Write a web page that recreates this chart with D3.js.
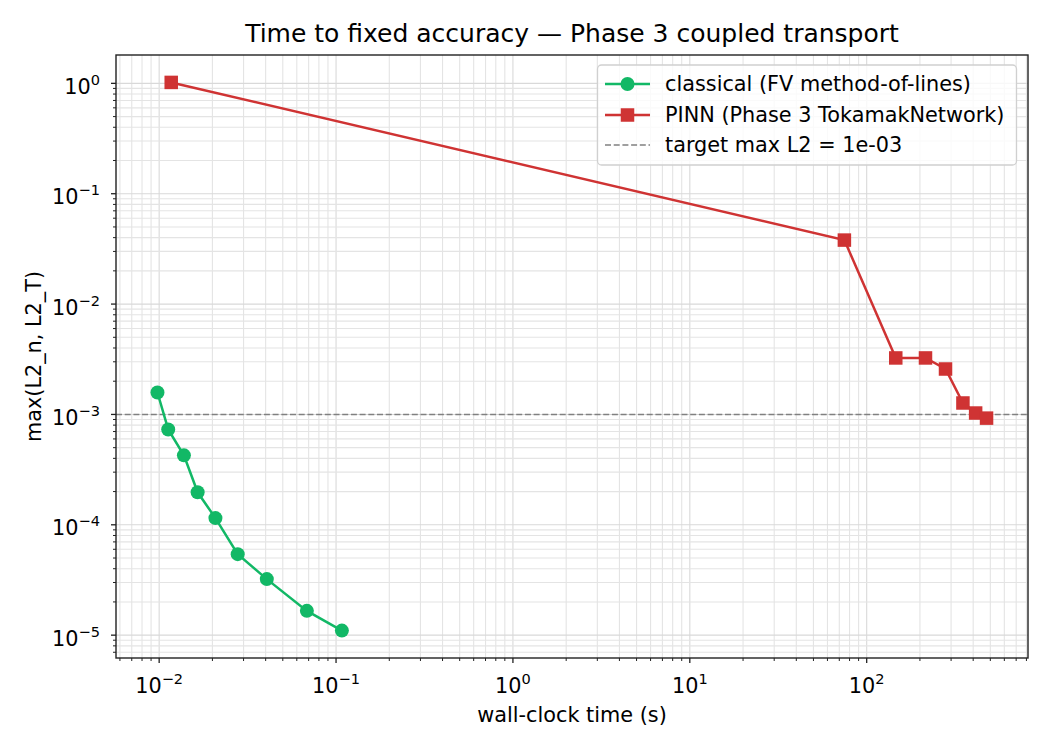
<!DOCTYPE html>
<html>
<head>
<meta charset="utf-8">
<script src="https://cdn.jsdelivr.net/npm/d3@7"></script>
<style>
  html, body { margin: 0; padding: 0; background: #fff; }
  text { font-family: "DejaVu Sans", sans-serif; fill: #000; }
</style>
</head>
<body>
<svg id="chart" width="1050" height="750"></svg>
<script>
// ---- data ----
const classicalTime = [0.00978, 0.01125, 0.0138, 0.0165, 0.0208, 0.0278, 0.0406, 0.0684, 0.1079];
const classicalErr  = [1.58e-3, 7.31e-4, 4.26e-4, 1.97e-4, 1.15e-4, 5.42e-5, 3.22e-5, 1.66e-5, 1.10e-5];
const pinnTime = [0.0117, 74.8, 146, 215, 279, 350, 413, 476];
const pinnErr  = [1.02, 0.0380, 3.25e-3, 3.25e-3, 2.58e-3, 1.27e-3, 1.03e-3, 9.26e-4];
const targetErr = 1e-3;
const xTickExps = [-2, -1, 0, 1, 2];
const yTickExps = [0, -1, -2, -3, -4, -5];
const seriesNames = ["classical (FV method-of-lines)", "PINN (Phase 3 TokamakNetwork)", "target max L2 = 1e-03"];
const titleText = "Time to fixed accuracy \u2014 Phase 3 coupled transport";
const xLabelText = "wall-clock time (s)";
const yLabelText = "max(L2_n, L2_T)";

// ---- layout ----
const W = 1050, H = 750;
const plot = { left: 116, right: 1028, top: 55, bottom: 658 };
const green = "#12b866", red = "#cf3333";

const svg = d3.select("#chart");

function padLog(vals, frac) {
  const lo = Math.log10(d3.min(vals)), hi = Math.log10(d3.max(vals));
  const p = (hi - lo) * frac;
  return [Math.pow(10, lo - p), Math.pow(10, hi + p)];
}
const x = d3.scaleLog().domain(padLog(classicalTime.concat(pinnTime), 0.05)).range([plot.left, plot.right]);
const y = d3.scaleLog().domain(padLog(classicalErr.concat(pinnErr), 0.05)).range([plot.bottom, plot.top]);

function minorTicks(scale) {
  const [a, b] = scale.domain();
  const out = [];
  for (let e = Math.floor(Math.log10(a)); e <= Math.ceil(Math.log10(b)); e++) {
    for (let m = 1; m <= 9; m++) {
      const v = m * Math.pow(10, e);
      if (v >= a && v <= b) out.push({ v, major: m === 1 });
    }
  }
  return out;
}
const xt = minorTicks(x), yt = minorTicks(y);

// grid
const grid = svg.append("g");
grid.selectAll("line.gx").data(xt).join("line")
  .attr("x1", d => x(d.v)).attr("x2", d => x(d.v))
  .attr("y1", plot.top).attr("y2", plot.bottom)
  .attr("stroke", d => d.major ? "#d9d9d9" : "#e4e4e4").attr("stroke-width", 1.1);
grid.selectAll("line.gy").data(yt).join("line")
  .attr("y1", d => y(d.v)).attr("y2", d => y(d.v))
  .attr("x1", plot.left).attr("x2", plot.right)
  .attr("stroke", d => d.major ? "#d9d9d9" : "#e4e4e4").attr("stroke-width", 1.1);

// target line
svg.append("line")
  .attr("x1", plot.left).attr("x2", plot.right)
  .attr("y1", y(targetErr)).attr("y2", y(targetErr))
  .attr("stroke", "#808080").attr("stroke-width", 1.6).attr("stroke-dasharray", "6,2.7");

// series
const line = d3.line().x(d => x(d[0])).y(d => y(d[1]));
const cData = classicalTime.map((t, i) => [t, classicalErr[i]]);
const pData = pinnTime.map((t, i) => [t, pinnErr[i]]);

svg.append("path").datum(cData).attr("d", line).attr("fill", "none")
  .attr("stroke", green).attr("stroke-width", 2.5);
svg.selectAll("circle.c").data(cData).join("circle")
  .attr("cx", d => x(d[0])).attr("cy", d => y(d[1])).attr("r", 7).attr("fill", green);

svg.append("path").datum(pData).attr("d", line).attr("fill", "none")
  .attr("stroke", red).attr("stroke-width", 2.5);
const sq = 13.5;
svg.selectAll("rect.p").data(pData).join("rect")
  .attr("x", d => x(d[0]) - sq / 2).attr("y", d => y(d[1]) - sq / 2)
  .attr("width", sq).attr("height", sq).attr("fill", red);

// axes frame
svg.append("rect").attr("x", plot.left).attr("y", plot.top)
  .attr("width", plot.right - plot.left).attr("height", plot.bottom - plot.top)
  .attr("fill", "none").attr("stroke", "#222").attr("stroke-width", 1.4);

// ticks
const fs = 20.8;
const axX = svg.append("g");
axX.selectAll("line").data(xt).join("line")
  .attr("x1", d => x(d.v)).attr("x2", d => x(d.v))
  .attr("y1", plot.bottom).attr("y2", d => plot.bottom + (d.major ? 5 : 3))
  .attr("stroke", "#222").attr("stroke-width", d => d.major ? 1.3 : 1);
const axY = svg.append("g");
axY.selectAll("line").data(yt).join("line")
  .attr("y1", d => y(d.v)).attr("y2", d => y(d.v))
  .attr("x1", plot.left).attr("x2", d => plot.left - (d.major ? 5 : 3))
  .attr("stroke", "#222").attr("stroke-width", d => d.major ? 1.3 : 1);

function powLabel(sel, e) {
  sel.append("tspan").text("10");
  sel.append("tspan").attr("dy", -9).attr("font-size", fs * 0.7).text(e < 0 ? "\u2212" + (-e) : String(e));
}
xTickExps.forEach(e => {
  const t = svg.append("text").attr("x", x(Math.pow(10, e))).attr("y", 692.5)
    .attr("text-anchor", "middle").attr("font-size", fs);
  powLabel(t, e);
});
yTickExps.forEach(e => {
  const t = svg.append("text").attr("x", 100).attr("y", y(Math.pow(10, e)) + 10.5)
    .attr("text-anchor", "end").attr("font-size", fs);
  powLabel(t, e);
});

// labels
svg.append("text").attr("x", (plot.left + plot.right) / 2).attr("y", 722)
  .attr("text-anchor", "middle").attr("font-size", fs).text(xLabelText);
svg.append("text").attr("transform", `translate(41,${(plot.top + plot.bottom) / 2}) rotate(-90)`)
  .attr("text-anchor", "middle").attr("font-size", fs).text(yLabelText);
svg.append("text").attr("x", (plot.left + plot.right) / 2).attr("y", 42)
  .attr("text-anchor", "middle").attr("font-size", 25).text(titleText);

// legend
const lg = svg.append("g");
lg.append("rect").attr("x", 597.5).attr("y", 65).attr("width", 419).attr("height", 100)
  .attr("rx", 4).attr("fill", "#fff").attr("fill-opacity", 0.8).attr("stroke", "#d0d0d0").attr("stroke-width", 1.3);
const rows = [84, 115, 145];
lg.append("line").attr("x1", 605).attr("x2", 650).attr("y1", rows[0]).attr("y2", rows[0]).attr("stroke", green).attr("stroke-width", 2.5);
lg.append("circle").attr("cx", 627.5).attr("cy", rows[0]).attr("r", 7).attr("fill", green);
lg.append("line").attr("x1", 605).attr("x2", 650).attr("y1", rows[1]).attr("y2", rows[1]).attr("stroke", red).attr("stroke-width", 2.5);
lg.append("rect").attr("x", 627.5 - sq / 2).attr("y", rows[1] - sq / 2).attr("width", sq).attr("height", sq).attr("fill", red);
lg.append("line").attr("x1", 605).attr("x2", 650).attr("y1", rows[2]).attr("y2", rows[2]).attr("stroke", "#808080").attr("stroke-width", 1.6).attr("stroke-dasharray", "6,2.7");
seriesNames.forEach((n, i) => {
  lg.append("text").attr("x", 665).attr("y", rows[i] + 7).attr("font-size", fs).text(n);
});
</script>
</body>
</html>
